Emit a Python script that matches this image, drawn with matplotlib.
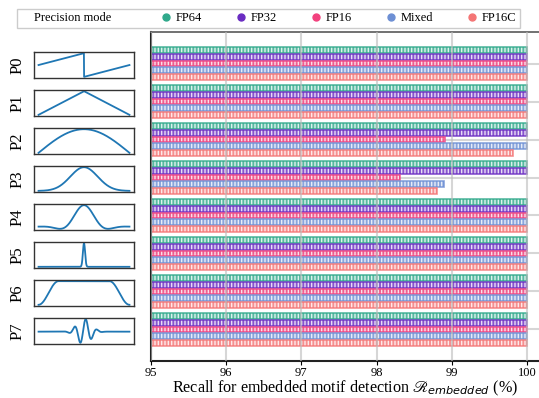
import numpy as np
import matplotlib.pyplot as plt
from matplotlib.lines import Line2D

plt.rcParams['font.family'] = ['Liberation Serif', 'DejaVu Serif']
plt.rcParams['mathtext.fontset'] = 'dejavusans'
plt.rcParams['hatch.linewidth'] = 1.0

# data
patterns = ['P0', 'P1', 'P2', 'P3', 'P4', 'P5', 'P6', 'P7']
modes = ['FP64', 'FP32', 'FP16', 'Mixed', 'FP16C']
colors = ['#2fa98b', '#6a2cc2', '#f2417e', '#6d8fd4', '#f47575']

fp64 = [100, 100, 100, 100, 100, 100, 100, 100]
fp32 = [100, 100, 100, 100, 100, 100, 100, 100]
fp16 = [100, 100, 98.91, 98.31, 100, 100, 100, 100]
mixed = [100, 100, 100, 98.9, 100, 100, 100, 100]
fp16c = [100, 100, 99.81, 98.8, 100, 100, 100, 100]
recall = [fp64, fp32, fp16, mixed, fp16c]

# motif thumbnails
t = np.linspace(0, 1, 500)
u = t - 0.5
edge = np.minimum(t, 1 - t)
shapes = [
    (t + 0.5) % 1.0,
    1 - np.abs(2 * u),
    np.sin(np.pi * t),
    np.exp(-u**2 / (2 * 0.15**2)),
    np.sinc(u / 0.2) * np.exp(-(u / 0.3)**2),
    np.exp(-u**2 / (2 * 0.012**2)),
    np.where(edge < 0.22, 0.5 - 0.5 * np.cos(np.pi * edge / 0.22), 1.0),
    np.cos(2 * np.pi * 8 * (u - 0.02)) * np.exp(-u**2 / (2 * 0.075**2)),
]

W, H = 539, 398
fig = plt.figure(figsize=(W / 100, H / 100), dpi=100)

ylim = (7.83, -0.83)
ax = fig.add_axes([151 / W, 1 - 361 / H, 388 / W, 329 / H])
y = np.arange(len(patterns))
step, bar_h = 0.175, 0.15
for k, (vals, c) in enumerate(zip(recall, colors)):
    pos = y + (k - 2) * step
    widths = np.array(vals) - 95
    ax.barh(pos, widths, left=95, height=bar_h, color=c, alpha=0.8,
            edgecolor='white', linewidth=0, hatch='|||||', zorder=2)
    ax.barh(pos, widths, left=95, height=bar_h, facecolor='none',
            edgecolor=c, linewidth=1.2, alpha=0.8, zorder=2.1)

ax.set_xlim(95, 100.16)
ax.set_ylim(*ylim)
ax.set_xticks([95, 96, 97, 98, 99, 100])
ax.set_yticks(y)
ax.set_yticklabels([])
ax.tick_params(axis='y', length=0)
ax.tick_params(axis='x', direction='out', length=3, labelsize=9, pad=1)
ax.grid(True, color='#bbbbbb', lw=1.5, alpha=0.6)
ax.set_axisbelow(True)
ax.xaxis.set_zorder(3)
for s in ['left', 'bottom']:
    ax.spines[s].set_linewidth(1.5)
    ax.spines[s].set_color('#222222')
ax.spines['top'].set_color('#666666')
ax.spines['top'].set_linewidth(1.3)
ax.spines['right'].set_visible(False)
ax.set_xlabel(r'Recall for embedded motif detection $\mathscr{R}_{embedded}$ (%)',
              fontsize=11.6, labelpad=0)

# thumbnails
bottom, height = 1 - 361 / H, 329 / H
for i, (name, shp) in enumerate(zip(patterns, shapes)):
    cy = bottom + (ylim[0] - i) / (ylim[0] - ylim[1]) * height - 1.5 / H
    sax = fig.add_axes([34 / W, cy - 13 / H, 100 / W, 26 / H])
    sax.plot(t, shp, color='#1f77b4', lw=1.3)
    sax.set_xticks([])
    sax.set_yticks([])
    for s in sax.spines.values():
        s.set_linewidth(1.0)
        s.set_color('#333333')
    sax.set_ylabel(name, fontsize=12, labelpad=6)

# legend
handles = [Line2D([], [], linestyle='none')]
handles += [Line2D([], [], linestyle='none', marker='o', ms=5, color=c) for c in colors]
labels = ['Precision mode     '] + modes
fig.legend(handles, labels, loc='lower left',
           bbox_to_anchor=(17 / W, 1 - 28 / H, 503 / W, 20 / H), mode='expand',
           ncol=6, frameon=True, fancybox=False, edgecolor='#cccccc', framealpha=1,
           fontsize=9, handlelength=0.6, handletextpad=0.5, borderpad=0.3,
           borderaxespad=0)

fig.savefig('out.png', dpi=100)
